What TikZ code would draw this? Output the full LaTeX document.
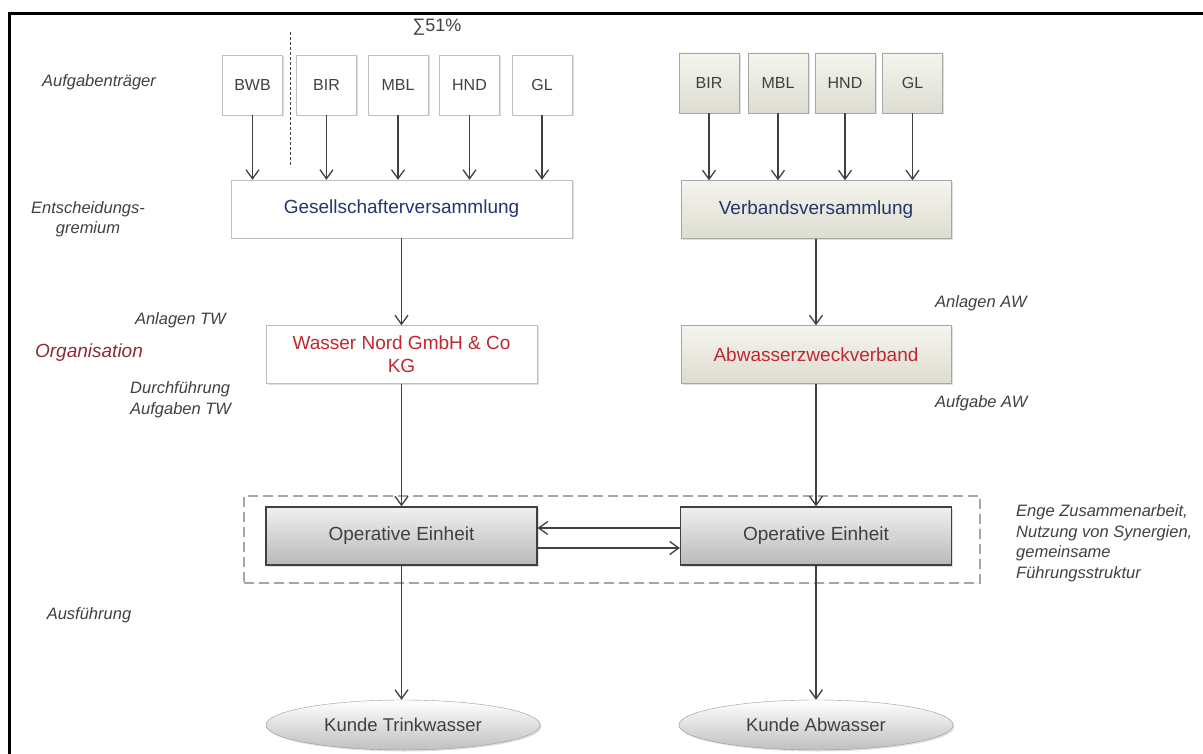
\documentclass[tikz,border=0pt]{standalone}
\usepackage{fontspec}
\setmainfont{Liberation Sans}
\usepackage{tikz}
\usepackage{xcolor}
\usetikzlibrary{arrows.meta,shadows,shapes.geometric}

\definecolor{labelgray}{HTML}{404040}
\definecolor{navytext}{HTML}{24366A}
\definecolor{redtext}{HTML}{C0282E}
\definecolor{orgred}{HTML}{8E2B36}
\definecolor{beigetop}{HTML}{F5F5EF}
\definecolor{beigebot}{HTML}{DCDCD0}
\definecolor{optop}{HTML}{F0F0F0}
\definecolor{opbot}{HTML}{B9B9B9}

\begin{document}
\begin{tikzpicture}[x=1pt,y=-1pt,
        lbl/.style={font=\fontsize{16.5}{20.5}\selectfont\itshape, text=labelgray, inner sep=0pt},
        softshadow/.style={drop shadow={shadow xshift=1.5pt, shadow yshift=-1.5pt, opacity=0.25}}]
        \useasboundingbox (0,0) rectangle (1203,754);
        \draw[line width=3pt] (9,754) -- (9,14) -- (1203,14);

        % Beschriftungen links
        \node[lbl] (traeger) at (99,82) {Aufgabenträger};
        \node[lbl, align=center] (gremium) at (88,219) {Entscheidungs-\\gremium};
        \node[lbl, anchor=east] (anltw) at (226,320) {Anlagen TW};
        \node[lbl, font=\fontsize{19}{22}\selectfont\itshape, text=orgred] (orga) at (89,353) {Organisation};
        \node[lbl, anchor=west, align=left] (durchf) at (130,399.5) {Durchführung\\Aufgaben TW};
        \node[lbl] (ausf) at (89,615) {Ausführung};
        \node[lbl, anchor=west] (anlaw) at (935,303) {Anlagen AW};
        \node[lbl, anchor=west] (aufgaw) at (935,403) {Aufgabe AW};
        \node[lbl, anchor=west, align=left] (enge) at (1016,543) {Enge Zusammenarbeit,\\Nutzung von Synergien,\\gemeinsame\\Führungsstruktur};

        \node[font=\fontsize{18}{21}\selectfont, text=labelgray] (sum) at (437,27) {∑51\%};
        \draw[dashed, dash pattern=on 3pt off 2pt, line width=1pt, black!75] (290,32) -- (290,167);

        % Aufgabentraeger TW
        \begin{scope}[every node/.style = {draw=black!25, fill=white, softshadow,
                        minimum width=60pt, minimum height=60pt, inner sep=0pt,
                        font=\fontsize{16}{19}\selectfont, text=labelgray}]
            \node (BWB)  at (252.5,85) {BWB};
            \node (BIRt) at (326.5,85) {BIR};
            \node (MBLt) at (398,85)   {MBL};
            \node (HNDt) at (469.5,85) {HND};
            \node (GLt)  at (542,85)   {GL};
        \end{scope}

        % Aufgabentraeger AW
        \begin{scope}[every node/.style = {draw=black!35, top color=beigetop, bottom color=beigebot, softshadow,
                        minimum width=60pt, minimum height=60pt, inner sep=0pt,
                        font=\fontsize{16}{19}\selectfont, text=labelgray}]
            \node (BIRa) at (709,83)   {BIR};
            \node (MBLa) at (778,83)   {MBL};
            \node (HNDa) at (845,83)   {HND};
            \node (GLa)  at (912.5,83) {GL};
        \end{scope}

        % Gremien und Organisation
        \begin{scope}[every node/.style = {draw=black!25, softshadow, minimum height=58pt,
                        inner sep=2pt, font=\fontsize{19}{23}\selectfont}]
            \node[fill=white, text=navytext, minimum width=341pt] (GV) at (401.5,209) {Gesellschafterversammlung};
            \node[top color=beigetop, bottom color=beigebot, draw=black!35, text=navytext, minimum width=270pt] (VV) at (816,209.5) {Verbandsversammlung};
            \node[fill=white, text=redtext, minimum width=271pt, align=center] (WN) at (401.5,354.5) {Wasser Nord GmbH \& Co\\KG};
            \node[top color=beigetop, bottom color=beigebot, draw=black!35, text=redtext, minimum width=270pt] (AZ) at (816,354.5) {Abwasserzweckverband};
        \end{scope}

        % Ausfuehrung
        \node[draw=black!35, fill=white, dashed, dash pattern=on 10pt off 5pt, line width=1.5pt,
              drop shadow={shadow xshift=1pt, shadow yshift=-1pt, opacity=0.12},
              minimum width=736pt, minimum height=87pt] (grp) at (612,539.5) {};
        \begin{scope}[every node/.style = {draw=labelgray, line width=1.3pt, top color=optop, bottom color=opbot,
                        softshadow, minimum width=271pt, minimum height=58pt,
                        font=\fontsize{19}{23}\selectfont, text=labelgray}]
            \node (OEl) at (401.5,536) {Operative Einheit};
            \node (OEr) at (816,536)   {Operative Einheit};
        \end{scope}
        \begin{scope}[every node/.style = {ellipse, draw=black!40, top color=white, bottom color=black!25,
                        softshadow, minimum width=274pt, minimum height=50pt,
                        font=\fontsize{18.5}{22}\selectfont, text=labelgray}]
            \node (KT) at (403,725) {Kunde Trinkwasser};
            \node (KA) at (816,725) {Kunde Abwasser};
        \end{scope}

        \begin{scope}[>={Straight Barb[length=9pt,width=13pt]},
                        every edge/.style={draw=labelgray, line width=1.3pt}]
            \path [->] (BWB)  edge (BWB  |- GV.north);
            \path [->] (BIRt) edge (BIRt |- GV.north);
            \path [->] (MBLt) edge (MBLt |- GV.north);
            \path [->] (HNDt) edge (HNDt |- GV.north);
            \path [->] (GLt)  edge (GLt  |- GV.north);

            \path [->] (BIRa) edge (BIRa |- VV.north);
            \path [->] (MBLa) edge (MBLa |- VV.north);
            \path [->] (HNDa) edge (HNDa |- VV.north);
            \path [->] (GLa)  edge (GLa  |- VV.north);

            \path [->] (GV) edge (WN);
            \path [->] (WN) edge (OEl);
            \path [->] (OEl) edge (OEl |- KT.north);
            \path [->] (VV) edge (AZ);
            \path [->] (AZ) edge (OEr);
            \path [->] (OEr) edge (KA);

            \path [->] ([yshift=8pt]OEr.west) edge ([yshift=8pt]OEl.east);
            \path [->] ([yshift=-12pt]OEl.east) edge ([yshift=-12pt]OEr.west);
        \end{scope}
    \end{tikzpicture}
\end{document}
